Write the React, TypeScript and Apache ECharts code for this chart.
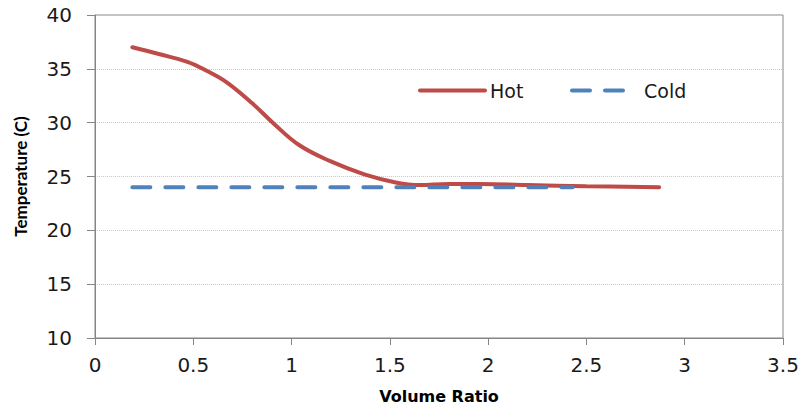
import React, { useEffect, useRef } from "react";
import * as echarts from "echarts";

const hotX = [0.19, 0.33, 0.47, 0.57, 0.67, 0.8, 0.91, 1.04, 1.2, 1.37, 1.53, 1.65, 1.8, 1.96, 2.2, 2.5, 2.87];
const hotY = [37.0, 36.35, 35.65, 34.8, 33.75, 31.8, 29.9, 27.9, 26.4, 25.2, 24.45, 24.2, 24.3, 24.3, 24.2, 24.1, 24.0];
const coldX = [0.19, 2.43];
const coldY = [24, 24];
const xTicks = [0, 0.5, 1, 1.5, 2, 2.5, 3, 3.5];
const yTicks = [10, 15, 20, 25, 30, 35, 40];

const WIDE = "DejaVu Sans";
const NARROW = "Lato";
const HOT = "#BE4B48";
const COLD = "#4F81BD";

export default function App() {
  const ref = useRef<HTMLDivElement>(null);
  useEffect(() => {
    if (!ref.current) return;
    const chart = echarts.init(ref.current, null, { renderer: "svg" });
    chart.setOption({
      animation: false,
      grid: {
        left: 95,
        right: 19,
        top: 15,
        bottom: 66,
        show: true,
        borderColor: "#868686",
        borderWidth: 1,
        backgroundColor: "transparent",
      },
      legend: [
        {
          left: 418,
          top: 81,
          padding: 0,
          itemWidth: 65,
          itemHeight: 18,
          data: ["Hot"],
          itemStyle: { opacity: 0 },
          lineStyle: { width: 4, cap: "round", color: HOT },
          textStyle: { fontFamily: WIDE, fontSize: 19, color: "#1a1a1a" },
        },
        {
          left: 570,
          top: 81,
          padding: 0,
          itemWidth: 51,
          itemHeight: 18,
          data: ["Cold"],
          itemStyle: { opacity: 0 },
          lineStyle: { width: 4, cap: "round", type: [18, 15], color: COLD },
          textStyle: { fontFamily: WIDE, fontSize: 19, color: "#1a1a1a", padding: [0, 0, 0, 16] },
        },
      ],
      xAxis: {
        type: "value",
        min: xTicks[0],
        max: xTicks[xTicks.length - 1],
        interval: 0.5,
        name: "Volume Ratio",
        nameLocation: "middle",
        nameGap: 50,
        nameTextStyle: { fontFamily: WIDE, fontSize: 16, fontWeight: "bold", color: "#000" },
        axisLine: { show: true, lineStyle: { color: "#868686", width: 1 } },
        axisTick: { show: true, length: 7, lineStyle: { color: "#868686" } },
        axisLabel: { fontFamily: WIDE, fontSize: 20, color: "#1a1a1a", margin: 17 },
        splitLine: { show: false },
      },
      yAxis: {
        type: "value",
        min: yTicks[0],
        max: yTicks[yTicks.length - 1],
        interval: 5,
        name: "Temperature (C)",
        nameLocation: "middle",
        nameGap: 66,
        nameTextStyle: { fontFamily: NARROW, fontSize: 17, fontWeight: "bold", color: "#000" },
        axisLine: { show: true, lineStyle: { color: "#868686", width: 1 } },
        axisTick: { show: true, length: 8, lineStyle: { color: "#868686" } },
        axisLabel: { fontFamily: WIDE, fontSize: 20, color: "#1a1a1a", margin: 23 },
        splitLine: { show: true, lineStyle: { color: "#c8c8c8", type: "dotted", width: 1 } },
      },
      series: [
        {
          name: "Hot",
          type: "line",
          smooth: 0.4,
          symbol: "none",
          data: hotX.map((x, i) => [x, hotY[i]]),
          lineStyle: { color: HOT, width: 4, cap: "round" },
          itemStyle: { color: HOT },
          z: 3,
        },
        {
          name: "Cold",
          type: "line",
          symbol: "none",
          data: coldX.map((x, i) => [x, coldY[i]]),
          lineStyle: { color: COLD, width: 4, type: [18, 15], cap: "round" },
          itemStyle: { color: COLD },
          z: 4,
        },
      ],
    });
    return () => chart.dispose();
  }, []);
  return <div ref={ref} style={{ width: 802, height: 409, position: "absolute", left: 0, top: 0 }} />;
}
